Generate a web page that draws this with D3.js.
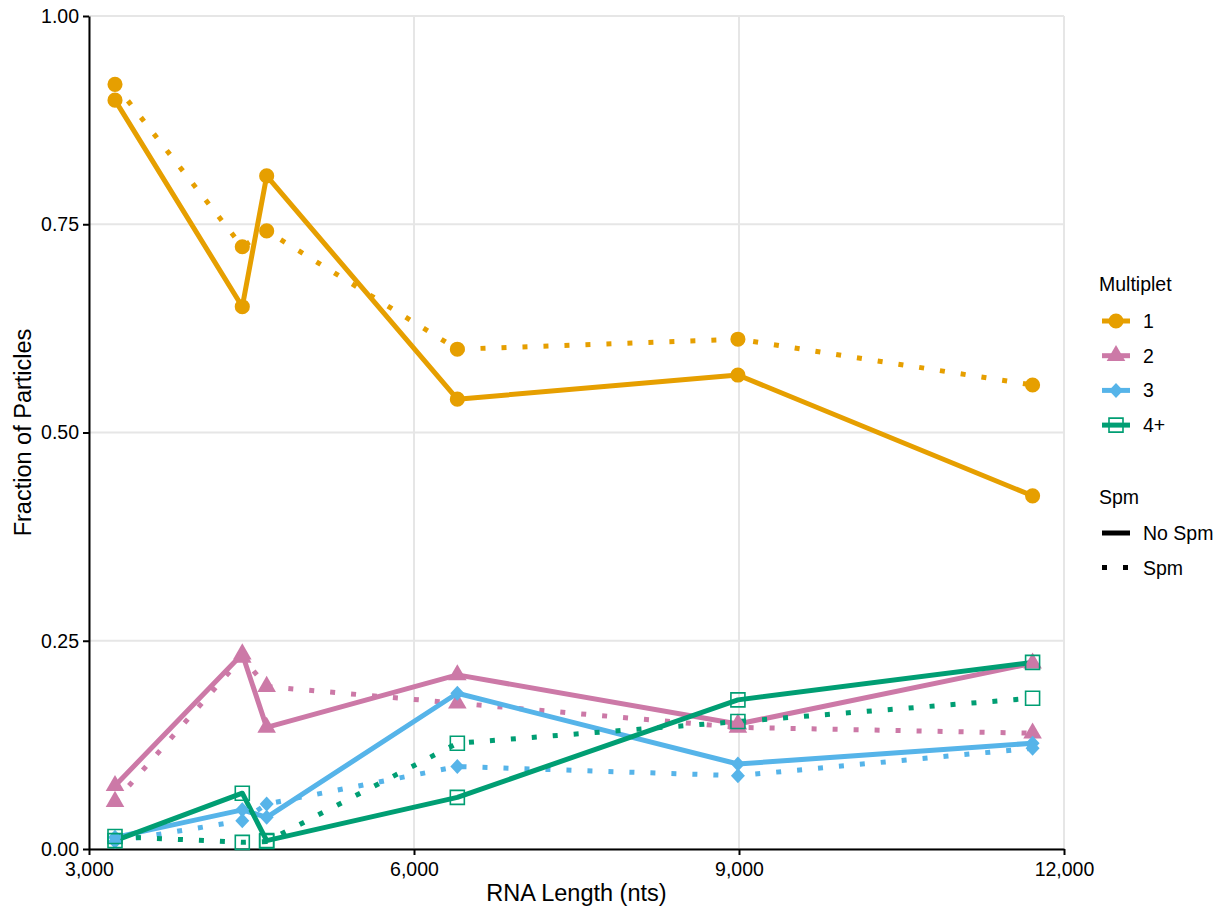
<!DOCTYPE html>
<html>
<head>
<meta charset="utf-8">
<script src="https://cdn.jsdelivr.net/npm/d3@7"></script>
<style>
  body { margin: 0; background: #fff; }
  svg text { font-family: "Liberation Sans", Arial, sans-serif; fill: #000; }
  .grid line { stroke: #e6e6e6; stroke-width: 2; }
</style>
</head>
<body>
<svg id="chart" width="1223" height="909"></svg>
<script>
// RNA lengths (nts) of each construct
const lengths = [3240, 4415, 4640, 6400, 8990, 11710];

const multiplets = ["1", "2", "3", "4+"];
const spmLevels = ["No Spm", "Spm"];

// fraction of particles, per multiplet, without / with spermine
const m1NoSpm = [0.899, 0.651, 0.808, 0.540, 0.569, 0.424];
const m1Spm   = [0.918, 0.723, 0.742, 0.600, 0.612, 0.557];
const m2NoSpm = [0.076, 0.234, 0.146, 0.209, 0.150, 0.223];
const m2Spm   = [0.057, 0.230, 0.195, 0.175, 0.146, 0.139];
const m3NoSpm = [0.014, 0.047, 0.038, 0.187, 0.102, 0.127];
const m3Spm   = [0.009, 0.034, 0.054, 0.099, 0.088, 0.121];
const m4NoSpm = [0.010, 0.067, 0.010, 0.062, 0.179, 0.224];
const m4Spm   = [0.015, 0.008, 0.009, 0.127, 0.153, 0.181];

const xTicks = [3000, 6000, 9000, 12000];
const yTicks = [0, 0.25, 0.5, 0.75, 1];

const colors = {"1": "#E69F00", "2": "#CC79A7", "3": "#56B4E9", "4+": "#009E73"};

const series = [
  {m: "1", spm: "No Spm", values: m1NoSpm},
  {m: "1", spm: "Spm", values: m1Spm},
  {m: "2", spm: "No Spm", values: m2NoSpm},
  {m: "2", spm: "Spm", values: m2Spm},
  {m: "3", spm: "No Spm", values: m3NoSpm},
  {m: "3", spm: "Spm", values: m3Spm},
  {m: "4+", spm: "No Spm", values: m4NoSpm},
  {m: "4+", spm: "Spm", values: m4Spm}
];

const svg = d3.select("#chart"),
      margin = {top: 16, right: 159, bottom: 60, left: 89},
      width = +svg.attr("width") - margin.left - margin.right,
      height = +svg.attr("height") - margin.top - margin.bottom;

const x = d3.scaleLinear().domain([3000, 12000]).range([0, width]),
      y = d3.scaleLinear().domain([0, 1]).range([height, 0]);

const g = svg.append("g")
    .attr("transform", `translate(${margin.left},${margin.top})`);

// gridlines
g.append("g").attr("class", "grid")
  .selectAll("line").data(yTicks).enter().append("line")
    .attr("x1", 0).attr("x2", width)
    .attr("y1", d => y(d)).attr("y2", d => y(d));
g.append("g").attr("class", "grid")
  .selectAll("line").data(xTicks).enter().append("line")
    .attr("y1", 0).attr("y2", height)
    .attr("x1", d => x(d)).attr("x2", d => x(d));

// axes
const xAxis = g.append("g")
    .attr("transform", `translate(0,${height})`)
    .call(d3.axisBottom(x).tickValues(xTicks).tickFormat(d3.format(",")).tickSize(6).tickSizeOuter(0));
const yAxis = g.append("g")
    .call(d3.axisLeft(y).tickValues(yTicks).tickFormat(d3.format(".2f")).tickSize(6).tickSizeOuter(0));

[xAxis, yAxis].forEach(a => {
  a.select(".domain").attr("stroke", "#000").attr("stroke-width", 2);
  a.selectAll(".tick line").attr("stroke", "#000").attr("stroke-width", 2);
  a.selectAll(".tick text").style("font-size", "19.5px").attr("fill", "#000");
});
xAxis.selectAll(".tick text").attr("dy", "0.9em");
yAxis.selectAll(".tick text").attr("x", -10);

g.append("text")
  .attr("x", width / 2).attr("y", height + 52)
  .style("text-anchor", "middle").style("font-size", "23.5px")
  .text("RNA Length (nts)");

g.append("text")
  .attr("transform", "rotate(-90)")
  .attr("x", -height / 2).attr("y", -58)
  .style("text-anchor", "middle").style("font-size", "23.5px")
  .text("Fraction of Particles");

// marker shapes
function markerPath(m) {
  if (m === "1") return d3.symbol(d3.symbolCircle, 180)();
  if (m === "2") return d3.symbol(d3.symbolTriangle, 150)();
  if (m === "3") return "M0,-7.5L7,0L0,7.5L-7,0Z";
  return "M-7,-7H7V7H-7Z";
}

function drawMarker(sel, m) {
  sel.attr("d", markerPath(m))
    .attr("fill", m === "4+" ? "none" : colors[m])
    .attr("stroke", m === "4+" ? colors[m] : "none")
    .attr("stroke-width", 1.6);
}

const line = d3.line()
    .x((d, i) => x(lengths[i]))
    .y(d => y(d));

const dash = "5,16";

g.selectAll(".series")
  .data(series).enter().append("path")
    .attr("class", "series")
    .attr("d", d => line(d.values))
    .attr("fill", "none")
    .attr("stroke", d => colors[d.m])
    .attr("stroke-width", 5)
    .attr("stroke-linejoin", "round")
    .attr("stroke-dasharray", d => d.spm === "Spm" ? dash : null);

series.forEach(s => {
  g.selectAll(null)
    .data(s.values).enter().append("path")
      .attr("transform", (d, i) => `translate(${x(lengths[i])},${y(d)})`)
      .each(function() { drawMarker(d3.select(this), s.m); });
});

// legend
const legend = svg.append("g").attr("transform", "translate(1099,0)");
legend.append("text").attr("x", 0).attr("y", 291).style("font-size", "19.5px").text("Multiplet");

multiplets.forEach((m, i) => {
  const row = legend.append("g").attr("transform", `translate(0,${321 + i * 34.7})`);
  row.append("line")
    .attr("x1", 3).attr("x2", 31).attr("y1", 0).attr("y2", 0)
    .attr("stroke", colors[m]).attr("stroke-width", 5);
  row.append("path").attr("transform", "translate(17,0)")
    .each(function() { drawMarker(d3.select(this), m); });
  row.append("text").attr("x", 44).attr("y", 7).style("font-size", "19.5px").text(m);
});

legend.append("text").attr("x", 0).attr("y", 504).style("font-size", "19.5px").text("Spm");

spmLevels.forEach((s, i) => {
  const row = legend.append("g").attr("transform", `translate(0,${533 + i * 34.5})`);
  row.append("line")
    .attr("x1", 3).attr("x2", 31).attr("y1", 0).attr("y2", 0)
    .attr("stroke", "#000").attr("stroke-width", 5)
    .attr("stroke-dasharray", s === "Spm" ? "5,16" : null);
  row.append("text").attr("x", 44).attr("y", 7).style("font-size", "19.5px").text(s);
});
</script>
</body>
</html>
